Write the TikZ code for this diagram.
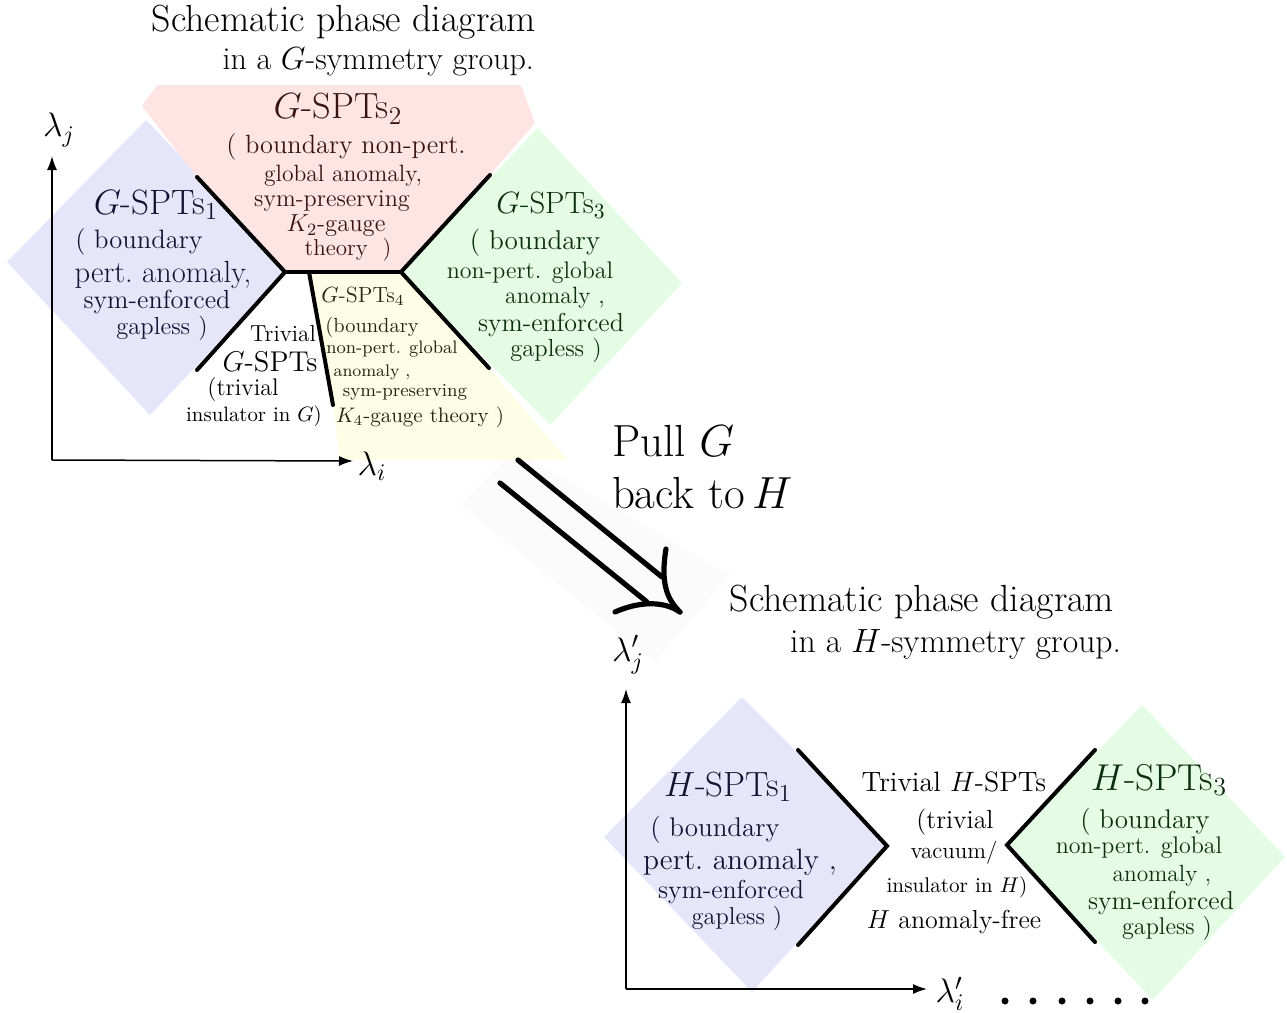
\RequirePackage{fix-cm}
\documentclass[tikz,border=0pt]{standalone}
\usetikzlibrary{arrows.meta}
\newcommand\fz[1]{\fontsize{#1}{#1}\selectfont}
\definecolor{cblue}{RGB}{230,230,251}
\definecolor{cpink}{RGB}{255,228,228}
\definecolor{cgreen}{RGB}{228,252,228}
\definecolor{cyellow}{RGB}{254,254,230}
\definecolor{tblue}{RGB}{20,20,50}
\definecolor{tpink}{RGB}{55,20,20}
\definecolor{tgreen}{RGB}{15,45,15}
\definecolor{tyellow}{RGB}{40,40,15}
\tikzset{
  lbl/.style={inner sep=0pt, outer sep=0pt},
  bnd/.style={line width=2pt, line cap=round},
  axisline/.style={line width=0.75pt, -{Latex[length=7pt,width=5pt]}},
  fat/.style={line width=2.6pt, line cap=round},
}
\newcommand\T[5]{\node[lbl,font=\fz{#4}] (#1) at (#2,#3) {#5};}
\begin{document}
\begin{tikzpicture}[x=0.5pt,y=-0.5pt]
\useasboundingbox (0,0) rectangle (1287,1013);

% ---------- fills ----------
\fill[black!1.5] (460,505) -- (515,450) -- (730,575) -- (655,662) -- cycle;
\fill[cblue] (7,262) -- (146,120) -- (289,268) -- (150,415) -- cycle;
\fill[cpink] (142,106) -- (157,85) -- (521,85) -- (535,123) -- (490,175) -- (401,272) -- (285,272) -- (197,177) -- cycle;
\fill[cgreen] (401,272) -- (538,128) -- (682,283) -- (550,425) -- cycle;
\fill[cyellow] (309,272) -- (401,272) -- (489,368) -- (567,460) -- (340,460) -- (333,405) -- cycle;
\fill[cblue] (604,837) -- (742,697) -- (888,843) -- (752,992) -- cycle;
\fill[cgreen] (1007,845) -- (1142,705) -- (1285,857) -- (1153,1000) -- cycle;

% ---------- titles ----------
\node[lbl,font=\fz{18.9},anchor=east] (t1a) at (536,22) {Schematic phase diagram};
\node[lbl,font=\fz{16},anchor=east] (t1b) at (534,62) {in a $G$-symmetry group.};
\node[lbl,font=\fz{18.9},anchor=east] (t2a) at (1114,602) {Schematic phase diagram};
\node[lbl,font=\fz{16.8},anchor=east] (t2b) at (1121,644) {in a $H$-symmetry group.};
\node[lbl,font=\fz{22.5},anchor=west] (pa) at (612,441) {Pull $G$};
\node[lbl,font=\fz{22.5},anchor=west] (pb) at (612,493) {back to\,$H$};

% ---------- G-SPTs1 ----------
\begin{scope}[text=tblue]
\T{g1a}{156}{205}{17.6}{$G$-SPTs$_1$}
\T{g1b}{139}{242}{13.3}{( boundary}
\T{g1c}{163}{275}{15.3}{pert.\ anomaly,}
\T{g1d}{157}{302}{13.1}{sym-enforced}
\T{g1e}{162}{328}{12.3}{gapless )}
\end{scope}
% ---------- G-SPTs2 ----------
\begin{scope}[text=tpink]
\T{g2a}{338}{109}{18.2}{$G$-SPTs$_2$}
\T{g2b}{346}{147}{13.2}{( boundary non-pert.}
\T{g2c}{343}{176}{11.8}{global anomaly,}
\T{g2d}{332}{201}{12.1}{sym-preserving}
\T{g2e}{336}{226}{12.3}{$K_2$-gauge}
\T{g2f}{348}{250}{11.5}{theory\ \ )}
\end{scope}
% ---------- G-SPTs3 ----------
\begin{scope}[text=tgreen]
\T{g3a}{551}{205}{15.4}{$G$-SPTs$_3$}
\T{g3b}{535}{243}{13.6}{( boundary}
\T{g3c}{530}{273}{12}{non-pert. global}
\T{g3d}{555}{298}{11.8}{anomaly ,}
\T{g3e}{551}{325}{13}{sym-enforced}
\T{g3f}{556}{350}{12.3}{gapless )}
\end{scope}
% ---------- G-SPTs4 ----------
\begin{scope}[text=tyellow]
\T{g4a}{363}{296}{11}{$G$-SPTs$_4$}
\T{g4b}{372}{327}{10.2}{(boundary}
\T{g4c}{392}{349}{9}{non-pert. global}
\T{g4d}{372}{372}{8.4}{anomaly ,}
\T{g4e}{405}{392}{9.2}{sym-preserving}
\T{g4f}{420}{417}{10.5}{$K_4$-gauge theory )}
\end{scope}
% ---------- trivial G ----------
\T{tga}{283}{334}{11.6}{Trivial}
\T{tgb}{270}{362}{14.3}{$G$-SPTs}
\T{tgc}{243}{390}{12}{(trivial}
\T{tgd}{254}{416}{10.4}{insulator in $G$)}

% ---------- H-SPTs1 ----------
\begin{scope}[text=tblue]
\T{h1a}{728}{787}{17.5}{$H$-SPTs$_1$}
\T{h1b}{715}{830}{13.5}{( boundary}
\T{h1c}{740}{862}{14.7}{pert.\ anomaly ,}
\T{h1d}{731}{892}{13}{sym-enforced}
\T{h1e}{737}{918}{12.2}{gapless )}
\end{scope}
% ---------- trivial H ----------
\T{tha}{954}{782}{14}{Trivial $H$-SPTs}
\T{thb}{955}{822}{13}{(trivial}
\T{thc}{954}{853}{11.5}{vacuum/}
\T{thd}{957}{887}{10.6}{insulator in $H$)}
\T{the}{954}{922}{13}{$H$ anomaly-free}
% ---------- H-SPTs3 ----------
\begin{scope}[text=tgreen]
\T{h3a}{1159}{780}{18.7}{$H$-SPTs$_3$}
\T{h3b}{1145}{822}{13.5}{( boundary}
\T{h3c}{1139}{848}{12}{non-pert. global}
\T{h3d}{1162}{876}{11.7}{anomaly ,}
\T{h3e}{1161}{903}{13}{sym-enforced}
\T{h3f}{1167}{928}{12.1}{gapless )}
\end{scope}

% ---------- boundaries (top) ----------
\coordinate (jL) at (285,272);
\coordinate (jR) at (401,272);
\coordinate (b1) at (197,177);
\coordinate (b2) at (197,370);
\coordinate (b3) at (309,272);
\coordinate (b4) at (333,405);
\coordinate (b5) at (490,175);
\coordinate (b6) at (489,368);
\draw[bnd] (b1) -- (jL) -- (b2);
\draw[bnd] (jL) -- (jR);
\draw[bnd] (b3) -- (b4);
\draw[bnd] (b5) -- (jR) -- (b6);
% ---------- boundaries (bottom) ----------
\coordinate (c1) at (798,750);
\coordinate (c2) at (887,846);
\coordinate (c3) at (798,945);
\coordinate (d1) at (1095,750);
\coordinate (d2) at (1007,845);
\coordinate (d3) at (1095,942);
\draw[bnd] (c1) -- (c2) -- (c3);
\draw[bnd] (d1) -- (d2) -- (d3);

% ---------- axes ----------
\coordinate (O1) at (52,460);
\coordinate (Y1) at (52,156);
\coordinate (X1) at (353,461);
\draw[axisline] (O1) -- (Y1);
\draw[axisline] (O1) -- (X1);
\node[lbl,font=\fz{17}] (lj) at (59,130) {$\lambda_j$};
\node[lbl,font=\fz{17}] (li) at (372,466) {$\lambda_i$};
\coordinate (O2) at (626,989);
\coordinate (Y2) at (626,689);
\coordinate (X2) at (927,989);
\draw[axisline] (O2) -- (Y2);
\draw[axisline] (O2) -- (X2);
\node[lbl,font=\fz{17}] (lj2) at (628,655) {$\lambda'_j$};
\node[lbl,font=\fz{17}] (li2) at (950,994) {$\lambda'_i$};

% ---------- dots ----------
\foreach \k/\xx in {1/1005,2/1033,3/1062,4/1090,5/1118,6/1145}
  \fill (\xx,1001) circle (3.5);

% ---------- pull-back arrow ----------
\coordinate (a1s) at (518,460);
\coordinate (a1e) at (662,577);
\coordinate (a2s) at (500,483);
\coordinate (a2e) at (647,602);
\coordinate (tip) at (680,612);
\coordinate (hu) at (666,549);
\coordinate (hl) at (615,612);
\draw[fat] (a1s) -- (a1e);
\draw[fat] (a2s) -- (a2e);
\draw[fat] (hu) .. controls (660,585) and (668,600) .. (tip);
\draw[fat] (hl) .. controls (640,601) and (664,601) .. (tip);
\end{tikzpicture}
\end{document}
